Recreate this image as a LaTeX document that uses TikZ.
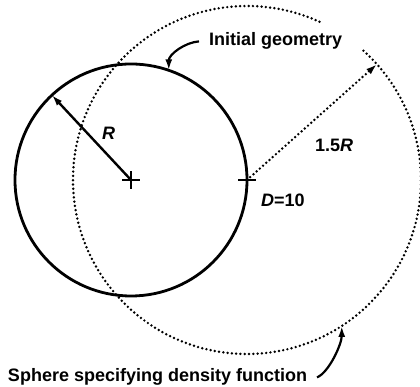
\documentclass[tikz,border=0pt]{standalone}
\usepackage{fontspec}
\setmainfont{Liberation Sans}
\usetikzlibrary{arrows.meta, calc}

\begin{document}
\begin{tikzpicture}[x=1pt, y=1pt, >={Latex[length=11pt,width=7pt]},
    lbl/.style={inner sep=0pt, font=\fontsize{18}{21}\selectfont\bfseries},
    callout/.style={lbl, outer sep=10pt},
    solidline/.style={line width=2.8pt},
    dotline/.style={line width=2.7pt, line cap=round, dash pattern=on 0pt off 4.3pt},
    crossmark/.style={line width=2.6pt}]
\useasboundingbox (0,0) rectangle (420,387);

\coordinate (c0) at (131,207);
\coordinate (c1) at (247,207);
\coordinate (rtip) at ($(c0)+(133:116)$);
\coordinate (ftip) at ($(c1)+(41.7:174)$);
\coordinate (gtip) at ($(c0)+(71:116)$);
\coordinate (stip) at ($(c1)+(-57:174)$);

\draw[solidline] (c0) circle[radius=116];
\draw[dotline] ($(c1)+(48:174)$) arc[start angle=48, end angle=-296, radius=174];

\foreach \c in {c0,c1}
  \draw[crossmark] ([xshift=-9pt]\c) -- ([xshift=9pt]\c) ([yshift=-9pt]\c) -- ([yshift=9pt]\c);

\draw[->, line width=2.4pt] (c0) -- (rtip);
\draw[->, dotline] (c1) -- (ftip);

\node[lbl, anchor=base west] (rlab) at (102,247) {\textit{R}};
\node[lbl, anchor=base west] (flab) at (315,235) {1.5\textit{R}};
\node[lbl, anchor=base west] (dlab) at (261,180) {\textit{D}=10};
\node[callout, anchor=base west] (geom) at (199,341) {Initial geometry};
\node[callout, anchor=base west] (sphere) at (-2,5) {Sphere specifying density function};

\draw[->, line width=2.2pt] (geom.west) .. controls +(-14,-1) and +(0,16) .. (gtip);
\draw[->, line width=2.2pt] (sphere.east) .. controls +(12,5) and +(0,-18) .. (stip);

\end{tikzpicture}
\end{document}
